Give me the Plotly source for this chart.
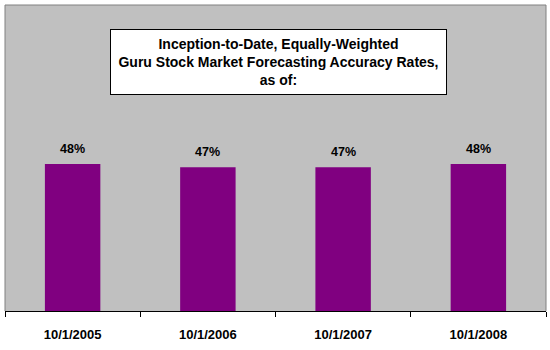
import plotly.graph_objects as go

categories = ["10/1/2005", "10/1/2006", "10/1/2007", "10/1/2008"]
accuracy = [0.48, 0.47, 0.47, 0.48]
value_labels = ["48%", "47%", "47%", "48%"]
title_lines = ["Inception-to-Date, Equally-Weighted",
               "Guru Stock Market Forecasting Accuracy Rates,",
               "as of:"]

FONT = "Liberation Sans, Arial, sans-serif"

fig = go.Figure()
fig.add_trace(go.Bar(
    x=categories, y=accuracy,
    marker=dict(color="#800080", line=dict(width=0)),
    width=0.41, hoverinfo="skip",
))

for c, v, t in zip(categories, accuracy, value_labels):
    fig.add_annotation(x=c, y=v, text="<b>" + t + "</b>", showarrow=False,
                       yanchor="bottom", yshift=6,
                       font=dict(family=FONT, size=12.5, color="black"))

fig.add_annotation(
    xref="paper", yref="paper", x=0.505, y=0.814,
    xanchor="center", yanchor="middle",
    text="<br>".join("<b>" + s + "</b>" for s in title_lines),
    showarrow=False, align="center",
    bgcolor="white", bordercolor="black", borderwidth=1,
    width=333, height=62,
    font=dict(family=FONT, size=14, color="black"),
)

fig.add_shape(type="path", xref="paper", yref="paper",
              path="M 0 0 L 0 1 L 1 1 L 1 0",
              line=dict(color="#808080", width=1), layer="above")

fig.update_layout(
    width=550, height=350,
    margin=dict(l=5, r=4, t=5, b=39),
    paper_bgcolor="white", plot_bgcolor="#C0C0C0",
    showlegend=False,
    xaxis=dict(type="category", tickson="boundaries", ticks="outside",
               ticklen=5, tickcolor="black", tickwidth=1,
               showline=True, linecolor="black", linewidth=1,
               showgrid=False, zeroline=False,
               tickfont=dict(family=FONT, size=13, color="black"),
               tickprefix="<b>", ticksuffix="</b>", ticklabelstandoff=11),
    yaxis=dict(range=[0, 1], visible=False, showgrid=False, zeroline=False),
)

fig.write_html("out.html")
